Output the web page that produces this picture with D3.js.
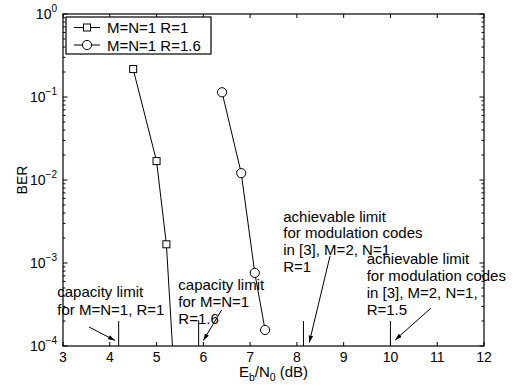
<!DOCTYPE html>
<html>
<head>
<meta charset="utf-8">
<script src="https://cdn.jsdelivr.net/npm/d3@7"></script>
<style>
  body { margin: 0; background: #fff; }
  text { font-family: "Liberation Sans", Arial, Helvetica, sans-serif; fill: #000; }
</style>
</head>
<body>
<script>
// series M=N=1 R=1 (squares); last point lies below the axis and is clipped
const ebnoR1 = [4.5, 5.0, 5.21, 5.4];
const berR1 = [0.217, 0.0169, 0.00168, 0.000027];
// series M=N=1 R=1.6 (circles)
const ebnoR16 = [6.4, 6.81, 7.1, 7.32];
const berR16 = [0.114, 0.0121, 0.00076, 0.000156];

const xTicks = [3, 4, 5, 6, 7, 8, 9, 10, 11, 12];
const yExps = [0, -1, -2, -3, -4];

// limit markers (vertical strokes at the bottom)
const limitX = [4.19, 5.9, 8.14, 10.0];
const limitTop = [2e-4, 2.05e-4, 2e-4, 2e-4];

// annotation texts: anchor x (dB), first baseline log10(BER), line step px
const noteLines = [
  ["capacity limit", "for M=N=1, R=1"],
  ["capacity limit", "for M=N=1", "R=1.6"],
  ["achievable limit", "for modulation codes", "in [3], M=2, N=1", "R=1"],
  ["achievable limit", "for modulation codes", "in [3], M=2, N=1,", "R=1.5"]
];
const noteX = [2.878, 5.465, 7.709, 9.492];
const noteLog = [-3.41, -3.331, -2.5, -3.018];
const noteStep = [18, 17, 16.7, 16.7];

// arrows: from (x0, log0) to (x1, log1)
const arrowFrom = [[3.556, -3.771], [6.392, -3.566], [8.708, -2.916], [10.86, -3.546]];
const arrowTo = [[4.112, -3.934], [6.0, -3.934], [8.265, -3.958], [10.10, -3.928]];

const width = 515, height = 388;
const margin = {left: 63, right: 31, top: 14, bottom: 42};

const svg = d3.select("body").append("svg")
  .attr("width", width)
  .attr("height", height);

const x = d3.scaleLinear().domain([3, 12]).range([margin.left, width - margin.right]);
const y = d3.scaleLog().domain([1e-4, 1]).range([height - margin.bottom, margin.top]);

const x0 = x.range()[0], x1 = x.range()[1];
const yb = y.range()[0], yt = y.range()[1];

svg.append("defs").append("clipPath").attr("id", "clip")
  .append("rect").attr("x", x0).attr("y", yt).attr("width", x1 - x0).attr("height", yb - yt);

svg.select("defs").append("marker")
  .attr("id", "head")
  .attr("viewBox", "0 0 10 10")
  .attr("refX", 10).attr("refY", 5)
  .attr("markerWidth", 7).attr("markerHeight", 7)
  .attr("markerUnits", "userSpaceOnUse")
  .attr("orient", "auto")
  .append("path").attr("d", "M0,1.8 L10,5 L0,8.2 Z").attr("fill", "#000");

// ticks (inward) on all four sides
const tk = svg.append("g").attr("stroke", "#000").attr("stroke-width", 1);
xTicks.forEach(v => {
  tk.append("line").attr("x1", x(v)).attr("x2", x(v)).attr("y1", yb).attr("y2", yb - 4);
  tk.append("line").attr("x1", x(v)).attr("x2", x(v)).attr("y1", yt).attr("y2", yt + 4);
});
const minor = [];
for (let e = -4; e < 0; e++) for (let m = 2; m <= 9; m++) minor.push(m * Math.pow(10, e));
minor.forEach(v => {
  tk.append("line").attr("x1", x0).attr("x2", x0 + 2.5).attr("y1", y(v)).attr("y2", y(v));
  tk.append("line").attr("x1", x1).attr("x2", x1 - 2.5).attr("y1", y(v)).attr("y2", y(v));
});
yExps.forEach(e => {
  const v = Math.pow(10, e);
  tk.append("line").attr("x1", x0).attr("x2", x0 + 4.5).attr("y1", y(v)).attr("y2", y(v));
  tk.append("line").attr("x1", x1).attr("x2", x1 - 4.5).attr("y1", y(v)).attr("y2", y(v));
});

// frame
svg.append("rect")
  .attr("x", x0).attr("y", yt).attr("width", x1 - x0).attr("height", yb - yt)
  .attr("fill", "none").attr("stroke", "#000").attr("stroke-width", 1.2);

// tick labels
svg.append("g").selectAll("text").data(xTicks).join("text")
  .attr("x", d => x(d)).attr("y", yb + 16)
  .attr("text-anchor", "middle").attr("font-size", 14)
  .text(d => d);

const yl = svg.append("g").selectAll("text").data(yExps).join("text")
  .attr("x", x0 - 6).attr("y", d => y(Math.pow(10, d)) + 5)
  .attr("text-anchor", "end").attr("font-size", 14);
yl.append("tspan").text("10");
yl.append("tspan").attr("font-size", 10).attr("dy", -7)
  .text(d => d === 0 ? "0" : "\u2212" + Math.abs(d));

// axis titles
const xt = svg.append("text")
  .attr("x", (x0 + x1) / 2).attr("y", yb + 31)
  .attr("text-anchor", "middle").attr("font-size", 15);
xt.append("tspan").text("E");
xt.append("tspan").attr("font-size", 10.5).attr("dy", 4).text("b");
xt.append("tspan").attr("dy", -4).text("/N");
xt.append("tspan").attr("font-size", 10.5).attr("dy", 4).text("0");
xt.append("tspan").attr("dy", -4).text(" (dB)");

svg.append("text")
  .attr("transform", `translate(27,${(yt + yb) / 2}) rotate(-90)`)
  .attr("text-anchor", "middle").attr("font-size", 14)
  .text("BER");

// data lines
const line = d3.line().x(d => x(d[0])).y(d => y(d[1]));
const plot = svg.append("g").attr("clip-path", "url(#clip)");
const s1 = d3.zip(ebnoR1, berR1);
const s2 = d3.zip(ebnoR16, berR16);
plot.append("path").datum(s1).attr("d", line).attr("fill", "none").attr("stroke", "#000");
plot.append("path").datum(s2).attr("d", line).attr("fill", "none").attr("stroke", "#000");
plot.selectAll("rect.sq").data(s1.slice(0, 3)).join("rect").attr("class", "sq")
  .attr("x", d => x(d[0]) - 3.5).attr("y", d => y(d[1]) - 3.5)
  .attr("width", 7).attr("height", 7)
  .attr("fill", "#fff").attr("stroke", "#000");
plot.selectAll("circle.ci").data(s2).join("circle").attr("class", "ci")
  .attr("cx", d => x(d[0])).attr("cy", d => y(d[1])).attr("r", 4.6)
  .attr("fill", "#fff").attr("stroke", "#000");

// limit strokes
svg.append("g").selectAll("line").data(d3.zip(limitX, limitTop)).join("line")
  .attr("x1", d => x(d[0])).attr("x2", d => x(d[0]))
  .attr("y1", d => y(d[1])).attr("y2", yb)
  .attr("stroke", "#000");

// arrows
svg.append("g").selectAll("line").data(d3.zip(arrowFrom, arrowTo)).join("line")
  .attr("x1", d => x(d[0][0])).attr("y1", d => y(Math.pow(10, d[0][1])))
  .attr("x2", d => x(d[1][0])).attr("y2", d => y(Math.pow(10, d[1][1])))
  .attr("stroke", "#000").attr("marker-end", "url(#head)");

// annotation text
noteLines.forEach((lines, i) => {
  const t = svg.append("text").attr("font-size", 15)
    .attr("x", x(noteX[i])).attr("y", y(Math.pow(10, noteLog[i])));
  lines.forEach((s, j) => {
    t.append("tspan").attr("x", x(noteX[i])).attr("dy", j === 0 ? 0 : noteStep[i]).text(s);
  });
});

// legend
const lg = svg.append("g");
lg.append("rect").attr("x", 66).attr("y", 17).attr("width", 145).attr("height", 37)
  .attr("fill", "#fff").attr("stroke", "#000").attr("stroke-width", 1.2);
const legendNames = ["M=N=1 R=1", "M=N=1 R=1.6"];
legendNames.forEach((name, i) => {
  const ly = 27.5 + i * 17.5;
  lg.append("line").attr("x1", 74).attr("x2", 100).attr("y1", ly).attr("y2", ly).attr("stroke", "#000");
  if (i === 0) {
    lg.append("rect").attr("x", 83.5).attr("y", ly - 3.5).attr("width", 7).attr("height", 7)
      .attr("fill", "#fff").attr("stroke", "#000");
  } else {
    lg.append("circle").attr("cx", 87).attr("cy", ly).attr("r", 4.6)
      .attr("fill", "#fff").attr("stroke", "#000");
  }
  lg.append("text").attr("x", 107).attr("y", ly + 5.5).attr("font-size", 15).text(name);
});
</script>
</body>
</html>
